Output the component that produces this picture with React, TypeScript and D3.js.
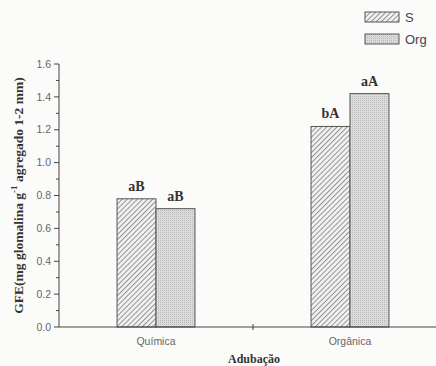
import React from 'react';
import * as d3 from 'd3';

// GFE por tipo de adubação
const categories = ['Química', 'Orgânica'];
const series = ['S', 'Org'];
const valuesS = [0.78, 1.22];
const valuesOrg = [0.72, 1.42];
const lettersS = ['aB', 'bA'];
const lettersOrg = ['aB', 'aA'];
const yTicks = [0, 0.2, 0.4, 0.6, 0.8, 1.0, 1.2, 1.4, 1.6];
const yMinor = [0.1, 0.3, 0.5, 0.7, 0.9, 1.1, 1.3, 1.5];

const W = 436;
const H = 366;
const margin = { top: 64, right: -11, bottom: 39, left: 59 };

export default function App() {
  const x = d3.scaleBand()
    .domain(categories)
    .range([margin.left, W - margin.right])
    .paddingInner(0)
    .paddingOuter(0);
  const inner = d3.scaleBand()
    .domain(series)
    .range([0, x.bandwidth()])
    .paddingInner(0)
    .paddingOuter(1.49);
  const y = d3.scaleLinear().domain([0, 1.6]).range([H - margin.bottom, margin.top]);

  const tickColor = '#666';
  const sans = 'Arial, "Liberation Sans", sans-serif';
  const serif = '"Times New Roman", "Liberation Serif", serif';
  const midX = x('Química')! + x.bandwidth();

  const bars = categories.flatMap((c, i) => [
    { c, s: 'S', v: valuesS[i], lab: lettersS[i] },
    { c, s: 'Org', v: valuesOrg[i], lab: lettersOrg[i] },
  ]);

  return (
    <div style={{ position: 'fixed', left: 0, top: 0 }}>
      <svg width={W} height={H} style={{ display: 'block', background: '#fbfbfa' }}>
        <defs>
          <pattern id="hatch" width="3.6" height="3.6" patternUnits="userSpaceOnUse" patternTransform="rotate(45)">
            <rect width="3.6" height="3.6" fill="#f0f0f0" />
            <line x1="0" y1="0" x2="0" y2="3.6" stroke="#5e5e5e" strokeWidth="1.2" />
          </pattern>
          <pattern id="dots" width="2" height="2" patternUnits="userSpaceOnUse">
            <rect width="2" height="2" fill="#dcdcdc" />
            <rect width="1" height="1" fill="#b9b9b9" />
          </pattern>
        </defs>

        {/* y axis */}
        <line x1={margin.left} x2={margin.left} y1={y(0)} y2={y(1.6)} stroke="#444" strokeWidth={1} />
        {yTicks.map(t => (
          <g key={t} transform={`translate(0,${y(t)})`}>
            <line x1={margin.left - 5} x2={margin.left} stroke="#444" />
            <text x={margin.left - 8} dy="0.35em" textAnchor="end" fontFamily={sans} fontSize={10.5} fill={tickColor}>
              {d3.format('.1f')(t)}
            </text>
          </g>
        ))}
        {yMinor.map(t => (
          <line key={t} x1={margin.left - 3} x2={margin.left} y1={y(t)} y2={y(t)} stroke="#444" />
        ))}

        {/* bars */}
        {bars.map((b, i) => {
          const bx = x(b.c)! + inner(b.s)!;
          return (
            <g key={i}>
              <rect x={bx} y={y(b.v)} width={inner.bandwidth()} height={y(0) - y(b.v)}
                fill={b.s === 'S' ? 'url(#hatch)' : 'url(#dots)'} stroke="#555" strokeWidth={1} />
              <text x={bx + inner.bandwidth() / 2} y={y(b.v) - 8} textAnchor="middle"
                fontFamily={serif} fontWeight="bold" fontSize={14} fill="#333">{b.lab}</text>
            </g>
          );
        })}

        {/* x axis */}
        <line x1={margin.left} x2={W} y1={y(0)} y2={y(0)} stroke="#444" />
        <line x1={midX} x2={midX} y1={y(0) - 3} y2={y(0) + 3} stroke="#444" />
        {categories.map(c => (
          <text key={c} x={x(c)! + x.bandwidth() / 2} y={y(0) + 18} textAnchor="middle"
            fontFamily={sans} fontSize={10.5} fill={tickColor}>{c}</text>
        ))}

        {/* axis titles */}
        <text x={254} y={H - 3} textAnchor="middle" fontFamily={serif} fontWeight="bold" fontSize={12} fill="#333">Adubação</text>
        <text transform={`translate(23,${(y(0) + y(1.6)) / 2}) rotate(-90)`} textAnchor="middle"
          fontFamily={serif} fontWeight="bold" fontSize={13.5} fill="#333">
          GFE(mg glomalina g<tspan dy="-6" fontSize={9}>-1</tspan><tspan dy="6"> agregado 1-2 mm)</tspan>
        </text>

        {/* legend */}
        {series.map((s, i) => (
          <g key={s} transform={`translate(365,${12 + i * 22})`}>
            <rect width={34} height={10} fill={s === 'S' ? 'url(#hatch)' : 'url(#dots)'} stroke="#555" />
            <text x={40} y={5} dy="0.38em" fontFamily={sans} fontSize={13} fill="#444">{s}</text>
          </g>
        ))}
      </svg>
    </div>
  );
}
